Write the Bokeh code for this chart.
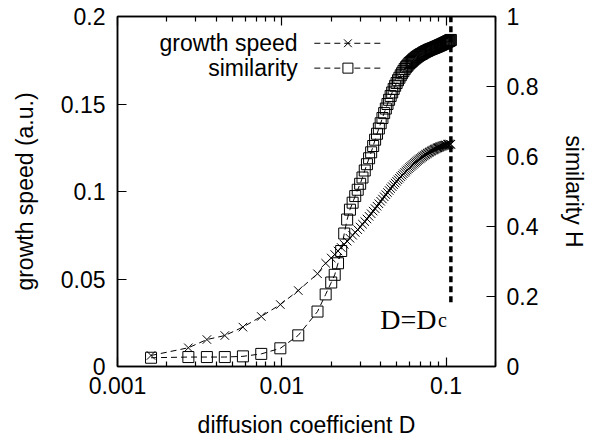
from bokeh.plotting import figure
from bokeh.models import (Range1d, LinearAxis, LogAxis, FixedTicker,
                          CustomJSTickFormatter, ColumnDataSource)
from bokeh.core.properties import value
from bokeh.embed import file_html
from bokeh.resources import INLINE

# ---------------- data ----------------
diffusion = [0.0016, 0.0027, 0.0035, 0.0045, 0.0058, 0.0075, 0.0098, 0.0126, 0.0165, 0.0185,
             0.020, 0.021, 0.022, 0.023, 0.024, 0.025, 0.026, 0.027, 0.028, 0.029,
             0.030, 0.031, 0.032, 0.033, 0.034, 0.035, 0.036, 0.037, 0.038, 0.039,
             0.040, 0.041, 0.042, 0.043, 0.044, 0.045, 0.046, 0.047, 0.048, 0.049,
             0.050, 0.051, 0.052, 0.053, 0.054, 0.055, 0.056, 0.057, 0.058, 0.059,
             0.060, 0.061, 0.062, 0.063, 0.064, 0.065, 0.066, 0.067, 0.068, 0.069,
             0.070, 0.071, 0.072, 0.073, 0.074, 0.075, 0.076, 0.077, 0.078, 0.079,
             0.080, 0.081, 0.082, 0.083, 0.084, 0.085, 0.086, 0.087, 0.088, 0.089,
             0.090, 0.091, 0.092, 0.093, 0.094, 0.095, 0.096, 0.097, 0.098, 0.099,
             0.100, 0.101, 0.102, 0.103, 0.104, 0.105, 0.106, 0.107]

growth_speed = [0.0063, 0.0107, 0.0154, 0.0177, 0.0225, 0.0286, 0.0354, 0.0434, 0.0530, 0.0590,
                0.0620, 0.0640, 0.0660, 0.0680, 0.0698, 0.0716, 0.0733, 0.0750, 0.0766, 0.0782,
                0.0797, 0.0813, 0.0828, 0.0843, 0.0858, 0.0873, 0.0888, 0.0902, 0.0916, 0.0930,
                0.0944, 0.0957, 0.0970, 0.0982, 0.0994, 0.1006, 0.1017, 0.1028, 0.1038, 0.1048,
                0.1058, 0.1067, 0.1076, 0.1085, 0.1093, 0.1101, 0.1109, 0.1116, 0.1123, 0.1130,
                0.1137, 0.1143, 0.1149, 0.1155, 0.1161, 0.1166, 0.1171, 0.1176, 0.1181, 0.1186,
                0.1190, 0.1195, 0.1199, 0.1203, 0.1207, 0.1211, 0.1214, 0.1218, 0.1221, 0.1224,
                0.1227, 0.1230, 0.1233, 0.1236, 0.1238, 0.1241, 0.1243, 0.1245, 0.1248, 0.1250,
                0.1252, 0.1254, 0.1255, 0.1257, 0.1259, 0.1260, 0.1262, 0.1263, 0.1264, 0.1265,
                0.1266, 0.1262, 0.1268, 0.1271, 0.1266, 0.1272, 0.1268, 0.1270]

similarity = [0.025, 0.027, 0.027, 0.027, 0.029, 0.036, 0.052, 0.089, 0.157, 0.206,
              0.240, 0.262, 0.295, 0.330, 0.380, 0.420, 0.448, 0.468, 0.487, 0.505,
              0.522, 0.540, 0.560, 0.578, 0.595, 0.612, 0.630, 0.648, 0.665, 0.680,
              0.695, 0.710, 0.724, 0.737, 0.750, 0.762, 0.773, 0.783, 0.793, 0.802,
              0.810, 0.818, 0.825, 0.832, 0.838, 0.844, 0.850, 0.855, 0.859, 0.863,
              0.867, 0.870, 0.873, 0.876, 0.879, 0.881, 0.884, 0.886, 0.888, 0.890,
              0.892, 0.893, 0.895, 0.897, 0.898, 0.900, 0.901, 0.902, 0.904, 0.905,
              0.906, 0.907, 0.908, 0.909, 0.910, 0.911, 0.912, 0.913, 0.914, 0.915,
              0.916, 0.917, 0.918, 0.919, 0.920, 0.921, 0.922, 0.923, 0.924, 0.925,
              0.926, 0.927, 0.928, 0.929, 0.930, 0.931, 0.932, 0.933]

critical_D = 0.107

x_major_ticks = [0.001, 0.01, 0.1]
x_minor_ticks = [0.002, 0.003, 0.004, 0.005, 0.006, 0.007, 0.008, 0.009,
                 0.02, 0.03, 0.04, 0.05, 0.06, 0.07, 0.08, 0.09, 0.2]
left_ticks = [0, 0.05, 0.1, 0.15, 0.2]
right_ticks = [0, 0.2, 0.4, 0.6, 0.8, 1]

FONT = "Liberation Sans"
FS = "23px"

# ---------------- figure ----------------
p = figure(width=590, height=445, x_axis_type="log",
           x_range=Range1d(0.001, 0.2), y_range=Range1d(0, 0.2),
           output_backend="svg", toolbar_location=None,
           min_border_left=117, min_border_right=93,
           min_border_top=16, min_border_bottom=79)
p.extra_y_ranges = {"right": Range1d(0, 1)}
p.grid.visible = False
p.outline_line_color = "black"
p.outline_line_width = 1.5
p.background_fill_color = "white"
p.border_fill_color = "white"

fmt = CustomJSTickFormatter(code="return String(tick);")


def style_axis(ax, minor=True):
    ax.axis_line_color = "black"
    ax.axis_line_width = 1.5
    ax.major_tick_line_color = "black"
    ax.major_tick_line_width = 1.2
    ax.major_tick_in = 9
    ax.major_tick_out = 0
    ax.minor_tick_line_color = "black" if minor else None
    ax.minor_tick_line_width = 1.2
    ax.minor_tick_in = 5
    ax.minor_tick_out = 0
    ax.major_label_text_font = FONT
    ax.major_label_text_font_size = FS
    ax.major_label_text_color = "black"
    ax.axis_label_text_font = FONT
    ax.axis_label_text_font_size = FS
    ax.axis_label_text_font_style = "normal"
    ax.axis_label_text_color = "black"


# bottom x axis
xa = p.xaxis[0]
xa.ticker = FixedTicker(ticks=x_major_ticks, minor_ticks=x_minor_ticks)
xa.formatter = fmt
xa.axis_label = "diffusion coefficient D"
style_axis(xa)
xa.major_label_standoff = 10
xa.axis_label_standoff = 15

# top mirror (ticks only)
top = LogAxis(ticker=FixedTicker(ticks=x_major_ticks, minor_ticks=x_minor_ticks))
style_axis(top)
top.major_label_text_font_size = "1px"
top.major_label_text_alpha = 0
top.major_label_standoff = 0
p.add_layout(top, "above")

# left y axis
ya = p.yaxis[0]
ya.ticker = FixedTicker(ticks=left_ticks)
ya.formatter = fmt
ya.axis_label = "growth speed (a.u.)"
style_axis(ya, minor=False)
ya.major_label_standoff = 12
ya.axis_label_standoff = 20

# right y axis
ra = LinearAxis(y_range_name="right", ticker=FixedTicker(ticks=right_ticks), formatter=fmt,
                axis_label="similarity H")
style_axis(ra, minor=False)
ra.major_label_standoff = 11
ra.axis_label_standoff = 20
p.add_layout(ra, "right")

# ---------------- series ----------------
src = ColumnDataSource(dict(D=diffusion, g=growth_speed, h=similarity))
p.line("D", "g", source=src, line_color="black", line_width=1, line_dash="6 4")
p.scatter("D", "g", source=src, marker="x", size=12, line_color="black", line_width=1)
p.line("D", "h", source=src, y_range_name="right", line_color="black", line_width=1,
       line_dash="6 4")
p.scatter("D", "h", source=src, y_range_name="right", marker="square", size=11,
          fill_color=None, line_color="black", line_width=1)

# critical line
p.segment(x0=[critical_D], y0=[0.0367], x1=[critical_D], y1=[0.2],
          line_color="black", line_width=3.5, line_dash="6 4")
p.text(x=[0.0398], y=[0.0269], text=["D=D"], text_font=value("Liberation Serif"),
       text_font_size="28px", text_color="black", text_baseline="alphabetic")
p.text(x=[0.0892], y=[0.0266], text=["c"], text_font=value("Liberation Serif"),
       text_font_size="20px", text_color="black", text_baseline="alphabetic")

# ---------------- legend (label left, sample right) ----------------
leg_text_x = 0.01249
leg_x0, leg_x1, leg_xm = 0.01578, 0.0398, 0.02527
rows = [("growth speed", 0.1847, "x"), ("similarity", 0.1705, "square")]
for label, yy, mk in rows:
    p.text(x=[leg_text_x], y=[yy], text=[label], text_font=value(FONT),
           text_font_size=FS, text_color="black", text_align="right",
           text_baseline="middle")
    p.line(x=[leg_x0, leg_x1], y=[yy, yy], line_color="black", line_width=1,
           line_dash="6 4")
    if mk == "x":
        p.scatter(x=[leg_xm], y=[yy], marker="x", size=11, line_color="black")
    else:
        p.scatter(x=[leg_xm], y=[yy], marker="square", size=10, fill_color="white",
                  line_color="black")

open("out.html", "w").write(file_html(p, INLINE))
